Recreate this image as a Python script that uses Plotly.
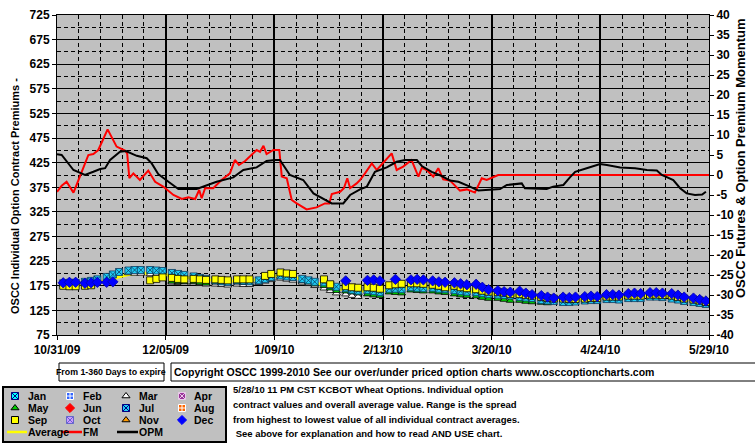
import pandas as pd
import plotly.graph_objects as go

W, H = 755, 446
START = "2009-10-31"
base = pd.Timestamp(START)

# ---------------- data ----------------
x_tick_labels = ["10/31/09", "12/05/09", "1/09/10", "2/13/10", "3/20/10", "4/24/10", "5/29/10"]
x_tick_days = [0, 35, 70, 105, 140, 175, 210]
left_tick_vals = [75, 125, 175, 225, 275, 325, 375, 425, 475, 525, 575, 625, 675, 725]
right_tick_vals = [40, 35, 30, 25, 20, 15, 10, 5, 0, -5, -10, -15, -20, -25, -30, -35, -40]
right_tick_labels = ["40", "35", "30", "25", "20", "15", "10", "5", "0", "-5", "-10",
                     "-15", "-20", "-25", "-30", "-35", "-40"]

# sampled trading days (Mon, Wed, Fri), day offsets from 10/31/09
trade_days = [2 + 7 * k + d for k in range(30) for d in (0, 2, 4)]

avg = [177, 178, 178, 179, 180, 181, 186, 190, 193, 198, 200, 201, 200, 199, 198,
       196, 194, 193, 190, 188, 187, 186, 185, 184, 185, 185, 185, 188, 191, 194,
       196, 195, 193, 188, 184, 180, 177, 173, 169, 167, 165, 164, 165, 164, 163,
       168, 169, 169, 172, 172, 171, 170, 169, 168, 167, 165, 164, 163, 161, 159,
       158, 157, 156, 155, 153, 152, 149, 148, 147, 147, 147, 148, 149, 150, 151,
       152, 152, 152, 154, 154, 154, 156, 156, 155, 153, 151, 148, 146, 144, 142]

mar = [None] * 9 + [201, 200, 200, 199, 198, 196, 182, 181, 180, 180, 179, 178,
                    178, 177, 176, 178, 177, 177, 181, 184, 187, 190, 188, 186,
                    182, 179, 175, 170, 165, 160, 158, 155, 153] + [None] * 48

may = [None] * 15 + [184, 183, 183, 183, 181, 180, 182, 181, 180, 182, 181, 181,
                     184, 187, 190, 194, 192, 190, 185, 182, 178, 175, 170, 165,
                     164, 162, 160, 158, 156, 155, 162, 161, 160, 166, 165, 164,
                     164, 162, 161, 158, 156, 155, 154, 151, 149, 149, 147, 145,
                     145, 143, 142, 141, 140, None] + [None] * 21

jul = [180, 181, 181, 183, 185, 188, 193, 198, 203, 206, 207, 207, 207, 206, 205,
       201, 199, 197, 194, 191, 189, 186, 184, 183, 186, 185, 184, 186, 189, 193,
       196, 194, 193, 189, 186, 183, 182, 177, 173, 170, 167, 165, 166, 164, 162,
       169, 169, 168, 172, 171, 170, 171, 169, 168, 166, 164, 163, 162, 160, 158,
       157, 156, 155, 152, 151, 150, 146, 145, 144, 142, 142, 143, 145, 146, 146,
       148, 148, 147, 150, 150, 150, 153, 153, 152, 149, 147, 144, 142, 140, 138]

sep = [175, 174, 174, 175, 176, None, None, None, None, None, None, None, 186, 189, 192,
       191, 189, 188, 189, 188, 187, 188, 187, 186, 188, 188, 188, None, 195, 199,
       202, 200, 199, None, None, None, 188, 178, None, 174, 172, 171, 172, 171, 169,
       176, 178, 179, 180, 180, 179, 177, 175, 172, 175, 172, 170, 168, 165, 163,
       162, 161, 158, 158, 156, 155, 152, 150, 149, 149, 148, 148, 149, 150, 150,
       153, 153, 153, 155, 155, 155, 157, 157, 156, 155, 152, 149, 147, 145, 142]

dec = [181, 182, 182, 180, 181, 182, 182, 183, None] + [None] * 30 + \
      [185, None, None, 186, 187, 185, None, 188, None, 187, 188, 187,
       185, 183, 182, 181, 179, 177, 178, 172, 167, 165, 163, 162,
       164, 160, 157, 155, 152, 150, 152, 151, 152, 153, 154, 153,
       157, 157, 156, 159, 160, 159, 161, 161, 160, 159, 156, 152,
       150, 147, 144]

fm_days = [0, 1.5, 3.1, 4.2, 5.3, 6.3, 8.0, 10.1, 11.7, 13.3, 16.3, 19.2, 21.9, 22.6, 23.3,
           24.6, 26.7, 29.4, 31.6, 34.2, 37.5, 40.2, 42.3, 44.5, 45.8, 46.6, 47.7, 50.3,
           53.0, 55.7, 57.3, 58.6, 60.6, 64.3, 65.4, 66.5, 67.5, 69.7, 71.6, 72.4, 74.0,
           75.6, 77.2, 80.4, 83.6, 86.3, 87.7, 88.5, 91.2, 92.4, 93.5, 94.4, 96.5, 97.6,
           99.2, 101.4, 103.0, 105.6, 107.8, 109.4, 111.5, 114.2, 116.4, 117.5, 119.1,
           121.2, 122.8, 124.4, 126.6, 129.8, 132.0, 134.6, 136.8, 138.4, 142.1, 210]
fm_vals = [-4.2, -2.7, -1.7, -2.9, -4.4, -2.5, 0.8, 5, 5.25, 6.25, 11.4, 7.1, 6.1, 5.4, -0.8,
           0.4, -1.25, 1.1, -1.7, -2.9, -5, -6, -5.6, -6, -3.75, -5.8, -3.3, -3.3,
           -1.25, 0.4, 3.75, 2.5, 3.5, 6.25, 5.8, 7.3, 5.25, 6.25, 6.25, -0.4, -0.8,
           -6.25, -7.1, -8.6, -8.1, -7.1, -7.1, -4.75, -4.2, -3.3, -0.8, -3.3, -2.1, -1.25,
           0.4, 2.9, 1.25, 3.5, 5.4, 1.25, 2.1, 3.75, -0.4, 1.8, 1.25,
           -0.4, 1.7, -1.1, -1.4, -3.9, -3.6, -4.4, -0.8, -1.25, 0, 0]

opm_days = [0, 1.5, 5.3, 9.0, 11.7, 13.9, 15.5, 17.1, 20.3, 22.2, 25.7, 28.9, 30.5, 32.6, 35.9,
            39.1, 45.0, 47.7, 51.4, 56.8, 60.0, 64.3, 67.5, 70.2, 71.8, 75.0, 79.3, 82.6,
            86.3, 88.5, 92.2, 94.4, 97.6, 99.8, 102.4, 106.2, 109.4, 112.1, 115.9, 117.5,
            120.7, 123.9, 126.6, 129.3, 133.0, 135.7, 140.5, 142.7, 144.9, 149.7, 150.7,
            157.7, 159.8, 163.1, 165.2, 166.9, 170.6, 174.9, 177.1, 181.4, 186.2, 190.0,
            193.2, 194.8, 198.5, 200.7, 202.8, 205.5, 207.8, 209]
opm_vals = [5.2, 5, 1.25, 0, 0.8, 1.5, 1.7, 3.75, 5.8, 6, 4.8, 4.2, 2.9, 0.25, -1.7,
            -3.5, -3.5, -2.75, -1.7, -0.6, 1.25, 1.9, 3.5, 3.75, 3.75, 0, -1.25, -4.6,
            -6.1, -7.1, -7.1, -5, -3.6, -2.9, 0.8, 1.9, 3.3, 3.75, 3.75, 2.25,
            0.8, -0.25, -1.4, -1.7, -2.9, -3.9, -3.6, -3.5, -2.5, -2.1, -3.3,
            -3.5, -2.9, -2.5, -0.6, 0.8, 1.7, 2.75, 2.5, 1.9, 1.7, 1.25,
            1.1, 0, -1.25, -3.3, -4.6, -5, -4.9, -4.2]

legend_labels = ["Jan", "Feb", "Mar", "Apr", "May", "Jun", "Jul", "Aug",
                 "Sep", "Oct", "Nov", "Dec"]
legend_symbols = ["square-x", "square-cross", "triangle-up", "square-x",
                  "triangle-up", "diamond", "square-x", "square-cross",
                  "square", "square-x", "triangle-up", "diamond"]
legend_colors = ["#00FFFF", "#3366FF", "#FFFFFF", "#993399", "#00CC00", "#FF0000",
                 "#1ECCF5", "#FF6600", "#FFFF00", "#CC99FF", "#FF9900", "#0000FF"]
legend_lines = ["#000080", "#FFFFFF", "#000000", "#E8C8E8", "#000000", "#FF0000",
                "#000080", "#FFFFFF", "#000000", "#6666CC", "#000000", "#0000FF"]
line_labels = ["Average", "FM", "OPM"]
line_colors = ["#FFFF00", "#FF0000", "#000000"]

title_left = "OSCC Individual Option Contract Premiums -"
title_right = "OSCC Futures & Option Premium Momentum"
box1_text = "From 1-360 Days to expire"
box2_text = "Copyright OSCC 1999-2010 See our over/under priced option charts www.osccoptioncharts.com"
info_lines = ["5/28/10 11 PM CST KCBOT Wheat Options. Individual option",
              "contract values and overall average value. Range is the spread",
              "from highest to lowest value of all individual contract averages.",
              " See above for explanation and how to read AND USE chart."]

# ---------------- layout helpers ----------------
PL, PR, PT, PB = 57, 709, 15, 335


def fx(px):
    return px / W


def fy(py):
    return 1 - py / H


def to_dates(days):
    return [base + pd.Timedelta(days=d) for d in days]


SANS = "Arial, Liberation Sans, sans-serif"
BOLD = dict(family=SANS, size=12, color="black", weight="bold")
SMALL = dict(family=SANS, size=9.5, color="black", weight="bold")
DASH = "4px,3px"

tdates = to_dates(trade_days)
fig = go.Figure()

fig.add_trace(go.Scatter(x=tdates, y=avg, mode="lines",
                         line=dict(color="#FFFF00", width=3), xaxis="x", yaxis="y"))

contract_series = [
    (mar, "triangle-up", "#FFFFFF", "#000000", 7),
    (may, "triangle-up", "#00CC00", "#000000", 7),
    (jul, "square-x", "#1ECCF5", "#0A3A60", 7),
    (sep, "square", "#FFFF00", "#000000", 7),
    (dec, "diamond", "#0000FF", "#0000AA", 8),
]
for vals, sym, col, lc, sz in contract_series:
    fig.add_trace(go.Scatter(x=tdates, y=vals, mode="markers",
                             marker=dict(symbol=sym, color=col, size=sz,
                                         line=dict(color=lc, width=0.8)),
                             xaxis="x", yaxis="y"))

fig.add_trace(go.Scatter(x=to_dates(fm_days), y=fm_vals, mode="lines",
                         line=dict(color="#FF0000", width=2), xaxis="x", yaxis="y3"))
fig.add_trace(go.Scatter(x=to_dates(opm_days), y=opm_vals, mode="lines",
                         line=dict(color="#000000", width=2), xaxis="x", yaxis="y3"))

# ---------------- legend (drawn in its own small subplot, pixel coords) ----------------
col_mark_x = [15, 70, 126, 182]
col_text_x = [27, 82, 138, 193]
row_y = [396, 408, 420, 432]
lx, ly = [], []
for i in range(len(legend_labels)):
    lx.append(col_mark_x[i % 4])
    ly.append(row_y[i // 4])
fig.add_trace(go.Scatter(x=lx, y=ly, mode="markers", xaxis="x2", yaxis="y2",
                         marker=dict(symbol=legend_symbols, color=legend_colors, size=7,
                                     line=dict(color=legend_lines, width=1))))

shapes = []
annotations = []
for i, lab in enumerate(legend_labels):
    annotations.append(dict(x=col_text_x[i % 4], y=row_y[i // 4], xref="x2", yref="y2",
                            text=lab, showarrow=False, xanchor="left", yanchor="middle",
                            borderpad=0, font=dict(SMALL, size=10.5)))
line_x0 = [7, 62, 117]
for i, lab in enumerate(line_labels):
    shapes.append(dict(type="line", xref="x2", yref="y2", x0=line_x0[i], x1=col_text_x[i],
                       y0=row_y[3], y1=row_y[3], line=dict(color=line_colors[i], width=2.5)))
    annotations.append(dict(x=col_text_x[i], y=row_y[3], xref="x2", yref="y2",
                            text=lab, showarrow=False, xanchor="left", yanchor="middle",
                            borderpad=0, font=dict(SMALL, size=10.5)))

# bottom boxes
shapes.append(dict(type="rect", xref="paper", yref="paper", x0=fx(59), x1=fx(164),
                   y0=fy(381), y1=fy(363), line=dict(color="black", width=1), fillcolor="white",
                   layer="below"))
shapes.append(dict(type="rect", xref="paper", yref="paper", x0=fx(171), x1=fx(770),
                   y0=fy(381), y1=fy(363), line=dict(color="black", width=1), fillcolor="white",
                   layer="below"))
annotations.append(dict(x=fx(111.5), y=fy(372), xref="paper", yref="paper", text=box1_text,
                        showarrow=False, xanchor="center", yanchor="middle", borderpad=0,
                        font=dict(SMALL, size=8.8)))
annotations.append(dict(x=fx(173), y=fy(372), xref="paper", yref="paper", text=box2_text,
                        showarrow=False, xanchor="left", yanchor="middle", borderpad=0,
                        font=dict(SMALL, size=10.5)))
info_y = [389, 404, 419, 433]
for t, yy in zip(info_lines, info_y):
    annotations.append(dict(x=fx(232), y=fy(yy), xref="paper", yref="paper", text=t,
                            showarrow=False, xanchor="left", yanchor="middle", borderpad=0,
                            font=SMALL))

# axis titles
annotations.append(dict(x=fx(15), y=fy(196), xref="paper", yref="paper", text=title_left,
                        textangle=-90, showarrow=False, xanchor="center", yanchor="middle",
                        font=dict(family=SANS, size=11, color="black", weight="bold")))
annotations.append(dict(x=fx(740), y=fy(158), xref="paper", yref="paper", text=title_right,
                        textangle=-90, showarrow=False, xanchor="center", yanchor="middle",
                        font=dict(family=SANS, size=13, color="black", weight="bold")))

fig.update_layout(
    width=W, height=H, margin=dict(l=0, r=0, t=0, b=0, pad=0, autoexpand=False),
    paper_bgcolor="white", plot_bgcolor="#C0C0C0", showlegend=False,
    xaxis=dict(type="date", domain=[fx(PL), fx(PR)], automargin=False,
               range=[base, base + pd.Timedelta(days=210)], anchor="y",
               tickmode="array", tickvals=to_dates(x_tick_days), ticktext=x_tick_labels,
               ticks="outside", ticklen=4, tickcolor="black", tickfont=BOLD,
               showline=True, mirror=True, linecolor="black", linewidth=1,
               showgrid=True, gridcolor="black", gridwidth=2, zeroline=False,
               minor=dict(dtick=7 * 86400000, tick0=START, showgrid=True, gridcolor="black",
                          gridwidth=1, griddash=DASH, ticks="")),
    yaxis=dict(domain=[fy(PB), fy(PT)], range=[75, 725], anchor="x", automargin=False,
               tickmode="array", tickvals=left_tick_vals,
               ticks="outside", ticklen=4, tickcolor="black", tickfont=BOLD,
               showline=True, linecolor="black", linewidth=1,
               showgrid=True, gridcolor="black", gridwidth=1, zeroline=False,
               minor=dict(dtick=25, tick0=75, showgrid=True, gridcolor="black",
                          gridwidth=1, griddash=DASH, ticks="")),
    yaxis3=dict(overlaying="y", side="right", anchor="x", range=[-40, 40], automargin=False,
                tickmode="array", tickvals=right_tick_vals, ticktext=right_tick_labels,
                ticks="outside", ticklen=4, tickcolor="black", tickfont=BOLD,
                showline=True, linecolor="black", linewidth=1,
                showgrid=False, zeroline=False),
    xaxis2=dict(domain=[fx(4), fx(225)], range=[4, 225], anchor="y2", automargin=False,
                showline=True, mirror=True, linecolor="black", linewidth=2,
                showgrid=False, zeroline=False, showticklabels=False, ticks=""),
    yaxis2=dict(domain=[fy(441), fy(388)], range=[441, 388], anchor="x2", automargin=False,
                showline=True, mirror=True, linecolor="black", linewidth=2,
                showgrid=False, zeroline=False, showticklabels=False, ticks=""),
    shapes=shapes, annotations=annotations,
)

fig.write_html("out.html", config={"displayModeBar": False},
               post_script="document.body.style.margin='0';document.body.style.overflow='hidden';")
